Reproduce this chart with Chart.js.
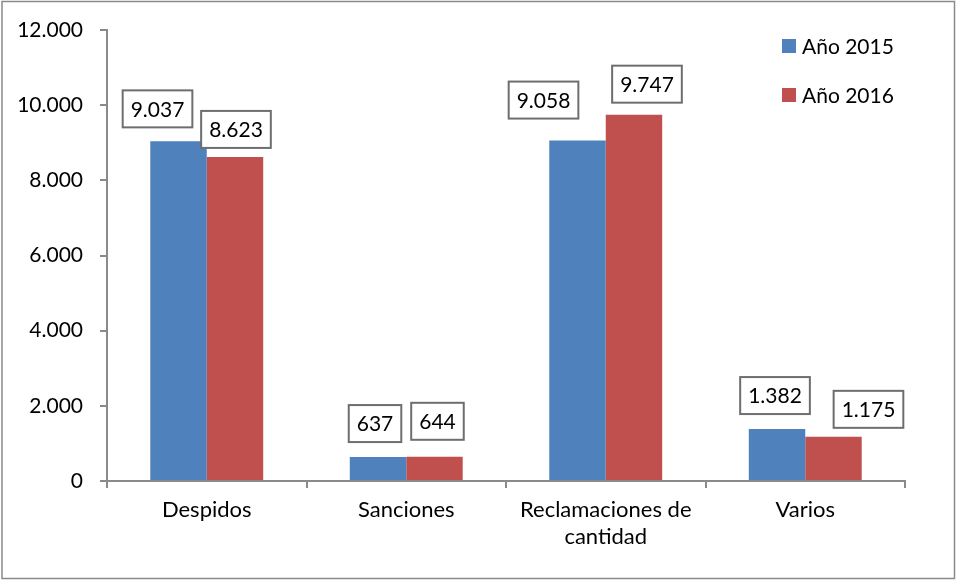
<!DOCTYPE html>
<html>
<head>
<meta charset="utf-8">
<script src="https://cdn.jsdelivr.net/npm/chart.js@4/dist/chart.umd.min.js"></script>
<style>
  html, body { margin: 0; padding: 0; background: #fff; }
  #wrap { width: 956px; height: 581px; }
</style>
</head>
<body>
<div id="wrap"><canvas id="juicioChart" width="956" height="581"></canvas></div>
<script>
// Datos
const categorias = ['Despidos', 'Sanciones', ['Reclamaciones de', 'cantidad'], 'Varios'];
const serieNombres = ['Año 2015', 'Año 2016'];
const valores2015 = [9037, 637, 9058, 1382];
const valores2016 = [8623, 644, 9747, 1175];
const ticksY = [0, 2000, 4000, 6000, 8000, 10000, 12000];

const FONT = 'Lato, "Open Sans", sans-serif';

function fmt(v) {
    return String(v).replace(/\B(?=(\d{3})+(?!\d))/g, '.');
}

// Desplazamiento manual de las etiquetas (dx, separación sobre la barra)
const ajusteEtiquetas = [
    [[-21, 14], [-3, 15], [-34, 22], [-2, 15]],
    [[1, 9], [3, 17], [13, 12], [35, 9]]
];

const marcoPlugin = {
    id: 'marco',
    beforeDraw(chart) {
        const c = chart.ctx;
        c.save();
        c.fillStyle = '#fff';
        c.fillRect(0, 0, chart.width, chart.height);
        c.strokeStyle = '#8a8a8a';
        c.lineWidth = 1.5;
        c.strokeRect(2, 1.5, 952.5, 577);
        c.restore();
    }
};

const etiquetasPlugin = {
    id: 'etiquetas',
    afterDatasetsDraw(chart) {
        const c = chart.ctx;
        c.save();
        c.font = '21px ' + FONT;
        c.textAlign = 'center';
        c.textBaseline = 'middle';
        chart.data.datasets.forEach(function(ds, di) {
            const meta = chart.getDatasetMeta(di);
            meta.data.forEach(function(bar, i) {
                const txt = fmt(ds.data[i]);
                const adj = ajusteEtiquetas[di][i];
                const w = c.measureText(txt).width + 16;
                const h = 37;
                const cx = bar.x + adj[0];
                const bottom = bar.y - adj[1];
                c.fillStyle = '#fff';
                c.fillRect(cx - w / 2, bottom - h, w, h);
                c.strokeStyle = '#6e6e6e';
                c.lineWidth = 2;
                c.strokeRect(cx - w / 2, bottom - h, w, h);
                c.fillStyle = '#000';
                c.fillText(txt, cx, bottom - h / 2 + 1);
            });
        });
        c.restore();
    }
};

const leyendaPlugin = {
    id: 'leyenda',
    afterDraw(chart) {
        const c = chart.ctx;
        c.save();
        c.font = '21px ' + FONT;
        c.textAlign = 'left';
        c.textBaseline = 'middle';
        chart.data.datasets.forEach(function(ds, di) {
            const y = 46 + di * 49;
            c.fillStyle = ds.backgroundColor;
            c.fillRect(782, y - 7, 14, 14);
            c.fillStyle = '#000';
            c.fillText(ds.label, 802, y + 1);
        });
        c.restore();
    }
};

new Chart(document.getElementById('juicioChart'), {
    type: 'bar',
    data: {
        labels: categorias,
        datasets: [{
            label: serieNombres[0],
            data: valores2015,
            backgroundColor: '#4F81BD',
            borderWidth: 0
        }, {
            label: serieNombres[1],
            data: valores2016,
            backgroundColor: '#C0504D',
            borderWidth: 0
        }]
    },
    options: {
        responsive: false,
        animation: false,
        events: [],
        categoryPercentage: 0.566,
        barPercentage: 1,
        layout: {
            padding: { left: 7, right: 51, top: 30, bottom: 0 }
        },
        plugins: {
            legend: { display: false },
            tooltip: { enabled: false }
        },
        scales: {
            x: {
                offset: true,
                grid: {
                    offset: true,
                    drawOnChartArea: false,
                    drawTicks: true,
                    tickLength: 7,
                    color: '#8a8a8a',
                    lineWidth: 2
                },
                border: { color: '#8a8a8a', width: 2 },
                ticks: {
                    color: '#000',
                    padding: 8,
                    maxRotation: 0,
                    autoSkip: false,
                    font: { family: FONT, size: 22, lineHeight: 1.25 }
                },
                afterFit(scale) { scale.height = 100; }
            },
            y: {
                min: 0,
                max: 12000,
                afterBuildTicks(scale) {
                    scale.ticks = ticksY.map(function(v) { return { value: v }; });
                },
                grid: {
                    drawOnChartArea: false,
                    drawTicks: true,
                    tickLength: 7,
                    color: '#8a8a8a',
                    lineWidth: 2
                },
                border: { color: '#8a8a8a', width: 2 },
                ticks: {
                    color: '#000',
                    padding: 17,
                    font: { family: FONT, size: 21 },
                    callback: function(v) { return fmt(v); }
                },
                afterFit(scale) { scale.width = 100; }
            }
        }
    },
    plugins: [marcoPlugin, etiquetasPlugin, leyendaPlugin]
});
</script>
</body>
</html>
